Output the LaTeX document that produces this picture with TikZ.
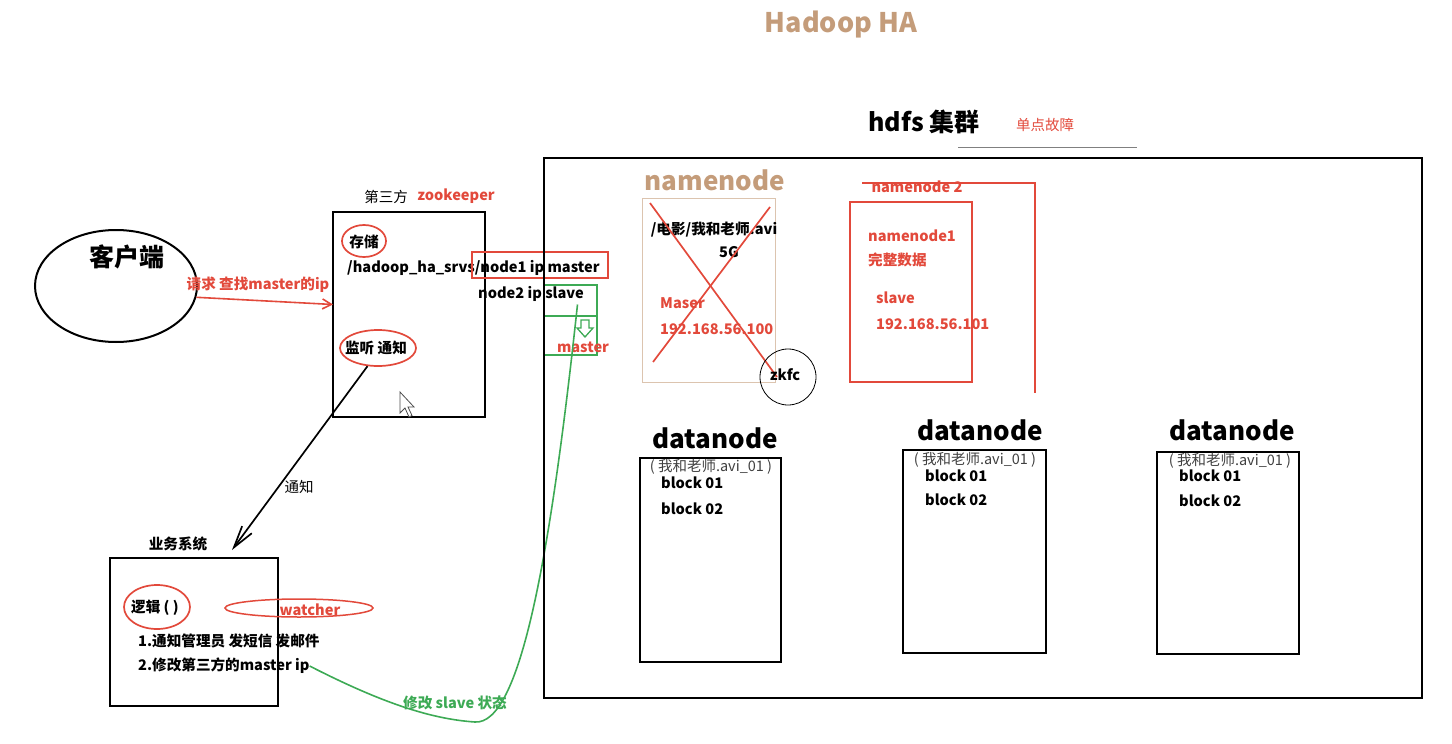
\documentclass[tikz,border=0pt]{standalone}
\usepackage{fontspec}
\setmainfont{Noto Sans CJK SC}
\usetikzlibrary{arrows.meta,shapes.geometric}
\definecolor{hared}{HTML}{E2493B}
\definecolor{hatan}{HTML}{C49C7A}
\definecolor{hagreen}{HTML}{3DAA55}

\begin{document}
\begin{tikzpicture}[x=1pt,y=-1pt,
    txt/.style={inner sep=0pt,font=\bfseries\fontsize{14.6}{16}\selectfont},
    plain/.style={inner sep=0pt,font=\fontsize{14.5}{16}\selectfont},
    redtxt/.style={txt,text=hared},
    bigtxt/.style={inner sep=0pt,font=\bfseries\fontsize{26}{28}\selectfont},
    box/.style={draw,line width=2.5pt,inner sep=0pt,outer sep=0pt},
    ring/.style={draw=hared,line width=1.7pt,ellipse,inner sep=0pt},
    filetxt/.style={inner sep=0pt,font=\fontsize{14.5}{16}\selectfont,text=black!75}]
  \useasboundingbox (0,0) rectangle (1452,744);

  % titles
  \node[bigtxt,text=hatan,font=\bfseries\fontsize{27}{30}\selectfont] (title) at (841,25) {Hadoop HA};
  \node[bigtxt,font=\bfseries\fontsize{25}{28}\selectfont] (hdfs) at (924,122) {hdfs 集群};
  \node[plain,text=hared] (spof) at (1045,125) {单点故障};
  \draw[gray,line width=1pt] (958,147) -- (1137,147);

  % client
  \node[draw,ellipse,line width=2pt,minimum width=162pt,minimum height=112pt] (client) at (116,286) {};
  \node[bigtxt,font=\bfseries\fontsize{25}{27}\selectfont] (clientlbl) at (127,257) {客户端};

  % zookeeper
  \node[box,minimum width=152pt,minimum height=205pt] (zk) at (409,314.5) {};
  \node[plain] (third) at (386,197) {第三方};
  \node[redtxt] (zkname) at (456,196) {zookeeper};
  \node[txt] (store) at (364,242) {存储};
  \node[ring,minimum width=44pt,minimum height=32pt] (storering) at (364,241) {};
  \node[txt,anchor=west] (znode) at (347,268) {/hadoop\_ha\_srvs/node1 ip master};
  \node[draw=hared,line width=1.8pt,minimum width=136pt,minimum height=26pt] (node1box) at (540,265) {};
  \node[txt,anchor=west] (node2) at (478,294) {node2 ip slave};
  \node[draw=hagreen,line width=1.6pt,minimum width=53pt,minimum height=31pt] (slave) at (570.5,300.5) {};
  \node[draw=hagreen,line width=1.6pt,minimum width=53pt,minimum height=39pt] (newmaster) at (570.5,335.5) {};
  \draw[hagreen,line width=1.3pt] (581,320) -- (581,328) -- (577,328) -- (585,337) -- (593,328) -- (589,328) -- (589,320) -- cycle;
  \node[redtxt] (mastertxt) at (583,347) {master};
  \node[txt] (listen) at (376,348) {监听 通知};
  \node[ring,minimum width=76pt,minimum height=36pt] (listenring) at (378,348) {};
  \draw[black!70,fill=white,line width=0.8pt] (400,392) -- (400,413) -- (405,408) -- (409,417) -- (412,415.5) -- (408,407) -- (414,407) -- cycle;

  \draw[hared,line width=1.6pt,-{Straight Barb[length=9pt,width=10pt]}] (client.-8) -- ([yshift=10pt]zk.west);
  \node[redtxt] (req) at (258,285) {请求 查找master的ip};

  % business system
  \node[box,minimum width=168pt,minimum height=148pt] (biz) at (194,632) {};
  \node[txt] (bizlbl) at (178,544) {业务系统};
  \node[txt] (logic) at (155,608) {逻辑 ( )};
  \node[ring,minimum width=66pt,minimum height=44pt] (logicring) at (157,607) {};
  \node[ring,line width=1.5pt,minimum width=148pt,minimum height=18pt] (watchring) at (299,608) {};
  \node[redtxt] (watcher) at (310,610) {watcher};
  \node[txt,anchor=west] (step1) at (138,641) {1.通知管理员 发短信 发邮件};
  \node[txt,anchor=west] (step2) at (138,666) {2.修改第三方的master ip};

  \draw[line width=1.7pt,-{Straight Barb[length=22pt,width=12pt]}] (listenring.240) -- ([xshift=38pt,yshift=8pt]biz.north);
  \node[plain] (notify) at (299,487) {通知};

  \draw[hagreen,line width=1.6pt] (step2.east) .. controls (380,702) and (430,719) .. (475,722)
      .. controls (520,725) and (550,560) .. ([xshift=7pt,yshift=-4pt]slave.center);
  \node[txt,text=hagreen] (modslave) at (455,703) {修改 slave 状态};

  % hdfs cluster
  \node[box,line width=2.8pt,minimum width=878pt,minimum height=540pt] (cluster) at (983,428) {};

  \node[bigtxt,text=hatan] (nn) at (715,180) {namenode};
  \node[draw=hatan!60,line width=1pt,minimum width=133pt,minimum height=184pt] (nn1) at (708.5,290) {};
  \node[txt] (movie) at (714,230) {/电影/我和老师.avi};
  \node[txt] (size) at (729,252) {5G};
  \node[redtxt,anchor=west] (maser) at (660,303) {Maser};
  \node[redtxt,anchor=west] (ip1) at (660,329) {192.168.56.100};
  \draw[hared,line width=1.7pt] (650,203) -- (777,377);
  \draw[hared,line width=1.7pt] (770,207) -- (653,362);
  \node[draw,circle,line width=0.8pt,minimum size=56pt] (zkfc) at (788,377) {};
  \node[txt] (zkfclbl) at (785,375) {zkfc};

  \node[draw=hared,line width=1.8pt,minimum width=122pt,minimum height=180pt] (nn2) at (911,292) {};
  \node[redtxt,anchor=west] (nn1name) at (868,236) {namenode1};
  \node[redtxt,anchor=west] (full) at (868,260) {完整数据};
  \node[redtxt,anchor=west] (slavetxt) at (876,298) {slave};
  \node[redtxt,anchor=west] (ip2) at (876,324) {192.168.56.101};
  \draw[hared,line width=1.8pt] (862,183) -- (1035,183) -- (1035,393);
  \node[redtxt,anchor=north] (nn2name) at (917,181) {namenode 2};

  % datanodes
  \node[bigtxt] (dn1) at (715,438) {datanode};
  \node[box,minimum width=141pt,minimum height=204pt] (dn1box) at (710.5,560) {};
  \node[filetxt] (dn1file) at (711,467) {( 我和老师.avi\_01 )};
  \node[txt,anchor=west] (dn1b1) at (661,483) {block 01};
  \node[txt,anchor=west] (dn1b2) at (661,509) {block 02};

  \node[bigtxt] (dn2) at (980,430) {datanode};
  \node[box,minimum width=143pt,minimum height=203pt] (dn2box) at (974.5,551.5) {};
  \node[filetxt] (dn2file) at (975,460) {( 我和老师.avi\_01 )};
  \node[txt,anchor=west] (dn2b1) at (925,476) {block 01};
  \node[txt,anchor=west] (dn2b2) at (925,500) {block 02};

  \node[bigtxt] (dn3) at (1232,430) {datanode};
  \node[box,minimum width=142pt,minimum height=202pt] (dn3box) at (1228,553) {};
  \node[filetxt] (dn3file) at (1230,461) {( 我和老师.avi\_01 )};
  \node[txt,anchor=west] (dn3b1) at (1179,476) {block 01};
  \node[txt,anchor=west] (dn3b2) at (1179,501) {block 02};
\end{tikzpicture}
\end{document}
